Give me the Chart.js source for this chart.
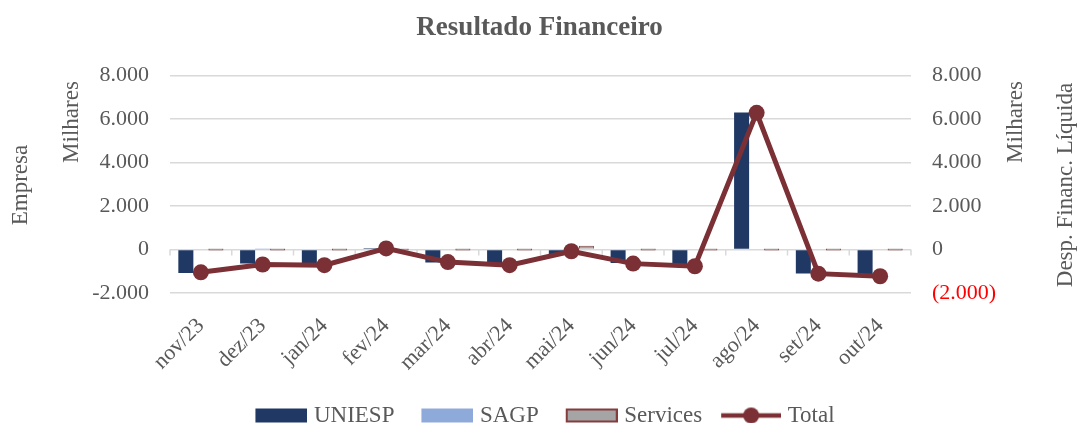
<!DOCTYPE html>
<html>
<head>
<meta charset="utf-8">
<script src="https://cdn.jsdelivr.net/npm/chart.js@4.4.1/dist/chart.umd.min.js"></script>
<style>
  body { margin: 0; background: #fff; }
  #wrap { width: 1079px; height: 423px; }
</style>
</head>
<body>
<div id="wrap"><canvas id="chart" width="1079" height="423"></canvas></div>
<script>
// valores em milhares
const labels = ['nov/23', 'dez/23', 'jan/24', 'fev/24', 'mar/24', 'abr/24', 'mai/24', 'jun/24', 'jul/24', 'ago/24', 'set/24', 'out/24'];
const uniesp = [-1080, -650, -720, 60, -600, -700, -230, -620, -750, 6300, -1100, -1220];
const sagp = [0, 15, 0, 0, 0, 0, 0, 0, 0, 0, 0, 0];
const services = [0, 0, 0, 0, 0, 0, 170, 0, 0, 0, 0, 0];
const total = [-1050, -690, -720, 50, -580, -720, -80, -650, -770, 6280, -1110, -1230];
const yTicks = [-2000, 0, 2000, 4000, 6000, 8000];

const TEXT = '#595959';
const FONT = '"Liberation Serif", "DejaVu Serif", serif';
const C_UNIESP = '#1f3864';
const C_SAGP = '#8eaadb';
const C_SERV = '#a5a5a5';
const C_SERV_BORDER = '#843c3c';
const C_TOTAL = '#7b3035';
const PAD_BOTTOM = -14;
const ICON_W = 74;          // espaço do ícone na legenda
const LEGEND_SHIFT = -8;    // legenda um pouco à esquerda, como no original

function fmt(v) {
  const s = Math.abs(v).toString().replace(/\B(?=(\d{3})+(?!\d))/g, '.');
  return v < 0 ? '-' + s : s;
}

// ícones da legenda: a imagem tem ICON_W + 10 px e o marcador fica encostado à direita
function legendIcon(kind, color, border) {
  const c = document.createElement('canvas');
  c.width = ICON_W + 10; c.height = 22;
  const g = c.getContext('2d');
  const r = c.width;
  if (kind === 'line') {
    g.strokeStyle = color; g.lineWidth = 4.5;
    g.beginPath(); g.moveTo(r - 60, 11); g.lineTo(r, 11); g.stroke();
    g.fillStyle = color;
    g.beginPath(); g.arc(r - 30, 11, 8, 0, Math.PI * 2); g.fill();
  } else {
    g.fillStyle = color;
    g.fillRect(r - 52, 4, 52, 14);
    if (border) {
      g.strokeStyle = border; g.lineWidth = 2;
      g.strokeRect(r - 51, 5, 50, 12);
    }
  }
  return c;
}

const icons = [
  legendIcon('box', C_UNIESP, null),
  legendIcon('box', C_SAGP, null),
  legendIcon('box', C_SERV, C_SERV_BORDER),
  legendIcon('line', C_TOTAL, null)
];

const extras = {
  id: 'extras',
  afterLayout(chart) {
    chart.legend.left += LEGEND_SHIFT;
    chart.legend.right += LEGEND_SHIFT;
  },
  beforeDatasetsDraw(chart) {
    // eixo horizontal em zero com marcas entre categorias
    const { ctx, scales } = chart;
    const x = scales.x, y = scales.y;
    const y0 = y.getPixelForValue(0);
    ctx.save();
    ctx.strokeStyle = '#d9d9d9';
    ctx.lineWidth = 1.5;
    ctx.beginPath();
    for (let i = 0; i <= labels.length; i++) {
      let px;
      if (i === 0) px = x.left;
      else if (i === labels.length) px = x.right;
      else px = (x.getPixelForValue(i - 1) + x.getPixelForValue(i)) / 2;
      ctx.moveTo(px, y0);
      ctx.lineTo(px, y0 + 6);
    }
    ctx.stroke();
    ctx.restore();
  },
  afterDraw(chart) {
    const { ctx } = chart;
    ctx.save();
    ctx.fillStyle = TEXT;
    ctx.font = '23px ' + FONT;
    ctx.textAlign = 'center';
    ctx.textBaseline = 'middle';
    const put = (txt, px, py) => {
      ctx.save();
      ctx.translate(px, py);
      ctx.rotate(-Math.PI / 2);
      ctx.fillText(txt, 0, 0);
      ctx.restore();
    };
    put('Empresa', 21, 185);
    put('Milhares', 72, 122);
    put('Milhares', 1016, 122);
    put('Desp. Financ. Líquida', 1066, 185);
    ctx.restore();
  }
};

new Chart(document.getElementById('chart'), {
  data: {
    labels: labels,
    datasets: [
      { type: 'bar', label: 'UNIESP', data: uniesp, backgroundColor: C_UNIESP, yAxisID: 'y', order: 1 },
      { type: 'bar', label: 'SAGP', data: sagp, backgroundColor: C_SAGP, yAxisID: 'y', order: 1 },
      { type: 'bar', label: 'Services', data: services, backgroundColor: C_SERV, borderColor: C_SERV_BORDER,
        borderWidth: 1, minBarLength: 2, yAxisID: 'y', order: 1 },
      { type: 'line', label: 'Total', data: total, borderColor: C_TOTAL, backgroundColor: C_TOTAL,
        borderWidth: 5, pointRadius: 8, pointBackgroundColor: C_TOTAL, pointBorderWidth: 0,
        tension: 0, yAxisID: 'y2', order: 0 }
    ]
  },
  options: {
    responsive: false,
    animation: false,
    layout: { padding: { bottom: PAD_BOTTOM } },
    datasets: { bar: { categoryPercentage: 0.73, barPercentage: 1 } },
    plugins: {
      tooltip: { enabled: false },
      title: {
        display: true,
        text: 'Resultado Financeiro',
        color: TEXT,
        font: { family: FONT, size: 27, weight: 'bold' },
        padding: { top: 12, bottom: 31 }
      },
      legend: {
        position: 'bottom',
        labels: {
          usePointStyle: true,
          pointStyleWidth: ICON_W,
          boxHeight: 22,
          padding: 0,
          color: TEXT,
          font: { family: FONT, size: 23 },
          generateLabels(chart) {
            return chart.data.datasets.map((ds, i) => ({
              text: ds.label,
              pointStyle: icons[i],
              fillStyle: 'transparent',
              strokeStyle: 'transparent',
              lineWidth: 0,
              fontColor: TEXT,
              datasetIndex: i,
              hidden: false
            }));
          }
        }
      }
    },
    scales: {
      x: {
        grid: { display: false },
        border: { display: false },
        ticks: {
          color: TEXT, font: { family: FONT, size: 22 },
          maxRotation: 45, minRotation: 45, padding: 12, autoSkip: false
        },
        afterFit(scale) {
          scale.height = 423 - PAD_BOTTOM - 293 - scale.chart.legend.height;
        }
      },
      y: {
        position: 'left',
        min: -2000, max: 8000,
        afterBuildTicks(scale) { scale.ticks = yTicks.map(v => ({ value: v })); },
        grid: { color: '#d9d9d9', lineWidth: 1.5, drawTicks: false },
        border: { display: false },
        ticks: {
          color: TEXT, font: { family: FONT, size: 22 }, padding: 21,
          callback: v => fmt(v)
        },
        afterFit(scale) { scale.width = 170; }
      },
      y2: {
        position: 'right',
        min: -2000, max: 8000,
        afterBuildTicks(scale) { scale.ticks = yTicks.map(v => ({ value: v })); },
        grid: { display: false, drawTicks: false },
        border: { display: false },
        ticks: {
          font: { family: FONT, size: 22 }, padding: 21,
          color: c => (c.tick && c.tick.value < 0 ? '#ff0000' : TEXT),
          callback: v => (v < 0 ? '(' + fmt(-v) + ')' : fmt(v))
        },
        afterFit(scale) { scale.width = 168; }
      }
    }
  },
  plugins: [extras]
});
</script>
</body>
</html>
